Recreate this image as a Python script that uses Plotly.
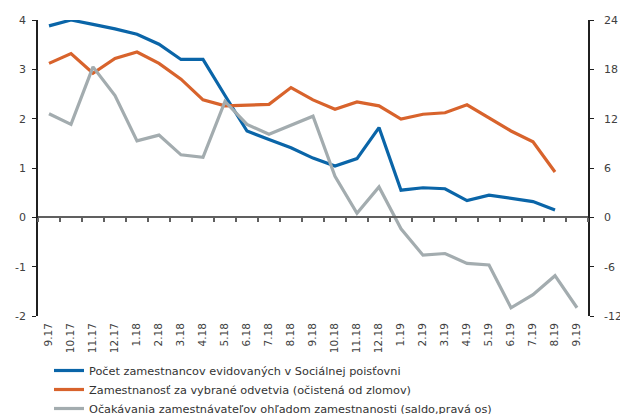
import plotly.graph_objects as go

categories = ["9.17", "10.17", "11.17", "12.17", "1.18", "2.18", "3.18", "4.18", "5.18",
              "6.18", "7.18", "8.18", "9.18", "10.18", "11.18", "12.18", "1.19", "2.19",
              "3.19", "4.19", "5.19", "6.19", "7.19", "8.19", "9.19"]

socialna = [3.88, 4.00, 3.91, 3.82, 3.71, 3.51, 3.20, 3.20, 2.47, 1.75, 1.58, 1.41, 1.20,
            1.04, 1.19, 1.82, 0.55, 0.60, 0.58, 0.34, 0.45, 0.385, 0.32, 0.15, None]

odvetvia = [3.12, 3.32, 2.92, 3.22, 3.35, 3.12, 2.80, 2.38, 2.26, 2.27, 2.29, 2.63, 2.38,
            2.19, 2.34, 2.26, 1.99, 2.09, 2.12, 2.28, 2.02, 1.75, 1.53, 0.92, None]

ocakavania = [12.6, 11.3, 18.3, 14.8, 9.3, 10.0, 7.6, 7.3, 14.1, 11.3, 10.1, 11.2, 12.3,
              5.0, 0.5, 3.7, -1.4, -4.6, -4.4, -5.6, -5.8, -11.0, -9.4, -7.1, -11.0]

left_ticks = [-2, -1, 0, 1, 2, 3, 4]
left_text = ["-2", "-1", "0", "1", "2", "3", "4"]
right_ticks = [-12, -6, 0, 6, 12, 18, 24]
right_text = ["-12", "-6", "0", "6", "12", "18", "24"]

names = ["Počet zamestnancov evidovaných v Sociálnej poisťovni",
         "Zamestnanosť za vybrané odvetvia (očistená od zlomov)",
         "Očakávania zamestnávateľov ohľadom zamestnanosti (saldo,pravá os)"]
colors = ["#0A65A8", "#D8632C", "#A3ACAF"]

FONT = "DejaVu Sans"
TXT = "#404040"

fig = go.Figure()
fig.add_trace(go.Scatter(x=categories, y=socialna, name=names[0], mode="lines",
                         line=dict(color=colors[0], width=3.2), xaxis="x", yaxis="y"))
fig.add_trace(go.Scatter(x=categories, y=odvetvia, name=names[1], mode="lines",
                         line=dict(color=colors[1], width=3.2), xaxis="x", yaxis="y"))
fig.add_trace(go.Scatter(x=categories, y=ocakavania, name=names[2], mode="lines",
                         line=dict(color=colors[2], width=3.2), xaxis="x", yaxis="y2"))
# helper trace for the zero-line category axis (invisible)
fig.add_trace(go.Scatter(x=categories, y=socialna, mode="lines", showlegend=False,
                         line=dict(color="rgba(0,0,0,0)", width=0), hoverinfo="skip",
                         xaxis="x2", yaxis="y"))

fig.update_layout(
    width=620, height=414,
    margin=dict(l=38, r=32, t=20, b=98, autoexpand=False),
    plot_bgcolor="white", paper_bgcolor="white",
    font=dict(family=FONT, size=10, color=TXT),
    showlegend=True,
    legend=dict(x=49 / 620, y=1 - 356 / 414, xref="container", yref="container",
                xanchor="left", yanchor="top",
                font=dict(family=FONT, size=11.3, color="#333333"),
                bgcolor="rgba(0,0,0,0)", tracegroupgap=0, itemwidth=30),
    xaxis=dict(type="category", categoryorder="array", categoryarray=categories,
               range=[-0.5, 24.5], showline=False, ticks="", showgrid=False,
               tickangle=-90, tickfont=dict(family=FONT, size=10.5, color=TXT),
               ticklabelstandoff=4,
               zeroline=False, automargin=False),
    xaxis2=dict(type="category", categoryorder="array", categoryarray=categories,
                range=[-0.5, 24.5], overlaying="x", anchor="free", position=1/3,
                showline=True, linecolor="#606060", linewidth=1.5,
                ticks="outside", tickson="boundaries", ticklen=4, tickcolor="#606060",
                tickwidth=1.5, showticklabels=False, showgrid=False, zeroline=False,
                automargin=False),
    yaxis=dict(range=[-2, 4], tickvals=left_ticks, ticktext=left_text,
               showline=True, linecolor="#202020", linewidth=1.5, ticks="outside",
               ticklen=4, tickcolor="#202020", showgrid=False, zeroline=False,
               ticklabelstandoff=4,
               tickfont=dict(family=FONT, size=11, color=TXT), automargin=False),
    yaxis2=dict(range=[-12, 24], tickvals=right_ticks, ticktext=right_text,
                overlaying="y", side="right", anchor="x",
                showline=True, linecolor="#202020", linewidth=1.5, ticks="outside",
                ticklen=4, tickcolor="#202020", showgrid=False, zeroline=False,
                ticklabelstandoff=8,
                tickfont=dict(family=FONT, size=11, color=TXT), automargin=False),
)

fig.write_html("out.html", config={"displayModeBar": False},
               post_script="document.body.style.margin='0';")
